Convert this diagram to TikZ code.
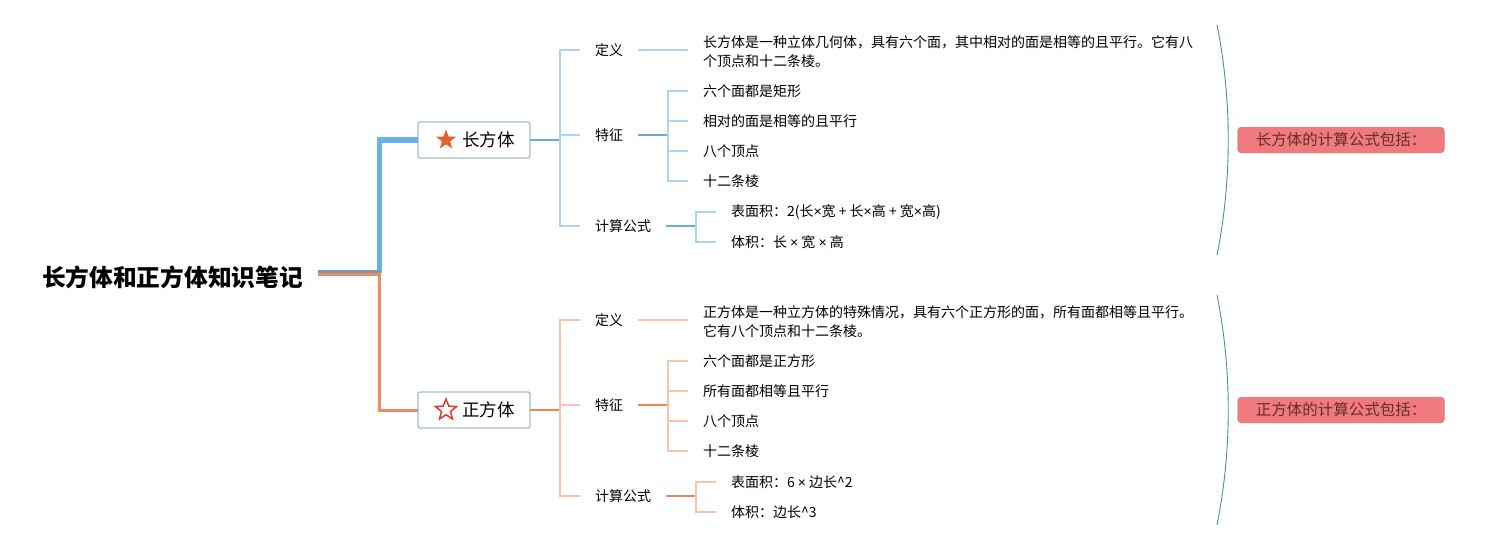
\documentclass[tikz,border=0pt]{standalone}
\usepackage{fontspec}
\setmainfont{Noto Sans CJK SC}
\newfontfamily\latinsans{Liberation Sans}
\newcommand{\timesx}{{\latinsans ×}}
\usetikzlibrary{shapes.geometric}
\definecolor{blue1}{RGB}{104,178,228}
\definecolor{blue2}{RGB}{172,212,236}
\definecolor{blue3}{RGB}{108,170,216}
\definecolor{bluegray1}{RGB}{130,150,176}
\definecolor{orange1}{RGB}{240,138,96}
\definecolor{orange2}{RGB}{246,196,172}
\definecolor{orange3}{RGB}{236,132,88}
\definecolor{boxgray}{RGB}{160,194,184}
\definecolor{brace1}{RGB}{80,148,128}
\definecolor{pink1}{RGB}{240,122,126}
\definecolor{brown1}{RGB}{96,46,46}
\definecolor{star1}{RGB}{228,98,50}
\definecolor{star2}{RGB}{222,58,50}

\begin{document}
\begin{tikzpicture}[	x=1pt, y=-1pt, inner sep=0pt, outer sep=0pt,
				line join=miter,
				topic/.style={draw=boxgray,line width=1.3pt,rounded corners=2pt,fill=white,
					minimum width=112pt,minimum height=36pt,font=\fontsize{17.5}{20}\selectfont},
				sub/.style={anchor=west,inner xsep=15pt,font=\fontsize{14}{17}\selectfont},
				leaf/.style={sub,align=left,font=\fontsize{14}{19}\selectfont},
				callout/.style={draw=gray!80,fill=pink1,rounded corners=4pt,minimum width=207pt,
					minimum height=26pt,text=brown1,font=\fontsize{15.5}{18}\selectfont},
				brace/.style={draw=brace1,line width=0.9pt}]

	\useasboundingbox (0,0) rectangle (1490,550);

	% Root
	\node[inner xsep=15pt,font=\fontsize{23.7}{28}\selectfont\bfseries] (root) at (172.5,277) {长方体和正方体知识笔记};
	\coordinate (fork) at (379.5,273);

	% Topics
	\node[topic] (cuboid) at (474,140) {\hspace*{29pt}长方体};
	\node[star,star points=5,star point ratio=2.4,minimum size=21pt,fill=star1] (cuboidstar) at ([xshift=28pt]cuboid.west) {};
	\node[topic] (cube) at (474,410) {\hspace*{29pt}正方体};
	\node[star,star points=5,star point ratio=2.3,minimum size=22pt,draw=star2,line width=1.5pt,fill=white] (cubestar) at ([xshift=28pt]cube.west) {};

	% Main branches
	\draw[orange1,line width=3pt] (fork) |- (cube.west);
	\draw[blue1,line width=5.5pt] (fork) |- (cuboid.west);
	\draw[bluegray1,line width=2.5pt] (root.east |- 0,271.5) -- (fork |- 0,271.5);
	\draw[orange1,line width=2.5pt] (root.east |- 0,274.5) -- (fork |- 0,274.5);

	% Cuboid branch
	\coordinate (cbus) at (560,140);
	\draw[blue3,line width=1.8pt] (cuboid.east) -- (cbus);
	\node[sub] (cdef) at (580,50) {定义};
	\node[sub] (cfeat) at (580,135) {特征};
	\node[sub] (ccalc) at (580,226) {计算公式};
	\foreach \n in {cdef,cfeat,ccalc}
		\draw[blue2,line width=1.2pt] (cbus) |- (\n.west);

	\node[leaf] (cdeftext) at (688,51.5) {长方体是一种立体几何体，具有六个面，其中相对的面是相等的且平行。它有八\\个顶点和十二条棱。};
	\draw[blue2,line width=1.2pt] (cdef.east) -- (cdef.east -| cdeftext.west);

	\coordinate (cfbus) at (668,135);
	\draw[blue3,line width=1.5pt] (cfeat.east) -- (cfbus);
	\foreach \t [count=\i] in {六个面都是矩形,相对的面是相等的且平行,八个顶点,十二条棱}{
		\node[leaf] (cf\i) at (688,61+30*\i) {\t};
		\draw[blue2,line width=1.2pt] (cfbus) |- (cf\i.west);
	}

	\coordinate (ccbus) at (696,226);
	\draw[blue3,line width=1.5pt] (ccalc.east) -- (ccbus);
	\node[leaf] (cc1) at (716,212) {表面积：2(长\timesx 宽 + 长\timesx 高 + 宽\timesx 高)};
	\node[leaf] (cc2) at (716,242) {体积：长 \timesx{} 宽 \timesx{} 高};
	\foreach \n in {cc1,cc2}
		\draw[blue2,line width=1.2pt] (ccbus) |- (\n.west);

	% Cube branch
	\coordinate (qbus) at (560,410);
	\draw[orange3,line width=1.8pt] (cube.east) -- (qbus);
	\node[sub] (qdef) at (580,320) {定义};
	\node[sub] (qfeat) at (580,405) {特征};
	\node[sub] (qcalc) at (580,496) {计算公式};
	\foreach \n in {qdef,qfeat,qcalc}
		\draw[orange2,line width=1.2pt] (qbus) |- (\n.west);

	\node[leaf] (qdeftext) at (688,321.5) {正方体是一种立方体的特殊情况，具有六个正方形的面，所有面都相等且平行。\\它有八个顶点和十二条棱。};
	\draw[orange2,line width=1.2pt] (qdef.east) -- (qdef.east -| qdeftext.west);

	\coordinate (qfbus) at (668,405);
	\draw[orange3,line width=1.5pt] (qfeat.east) -- (qfbus);
	\foreach \t [count=\i] in {六个面都是正方形,所有面都相等且平行,八个顶点,十二条棱}{
		\node[leaf] (qf\i) at (688,331+30*\i) {\t};
		\draw[orange2,line width=1.2pt] (qfbus) |- (qf\i.west);
	}

	\coordinate (qcbus) at (696,496);
	\draw[orange3,line width=1.5pt] (qcalc.east) -- (qcbus);
	\node[leaf] (qc1) at (716,482) {表面积：6 \timesx{} 边长\^{}2};
	\node[leaf] (qc2) at (716,512) {体积：边长\^{}3};
	\foreach \n in {qc1,qc2}
		\draw[orange2,line width=1.2pt] (qcbus) |- (\n.west);

	% Summaries
	\draw[brace] (1217,25) .. controls (1232,100) and (1232,180) .. (1217,255);
	\node[callout] (csum) at (1341,140) {长方体的计算公式包括：};
	\draw[brace] (1217,295) .. controls (1232,370) and (1232,450) .. (1217,525);
	\node[callout] (qsum) at (1341,410) {正方体的计算公式包括：};

\end{tikzpicture}
\end{document}
